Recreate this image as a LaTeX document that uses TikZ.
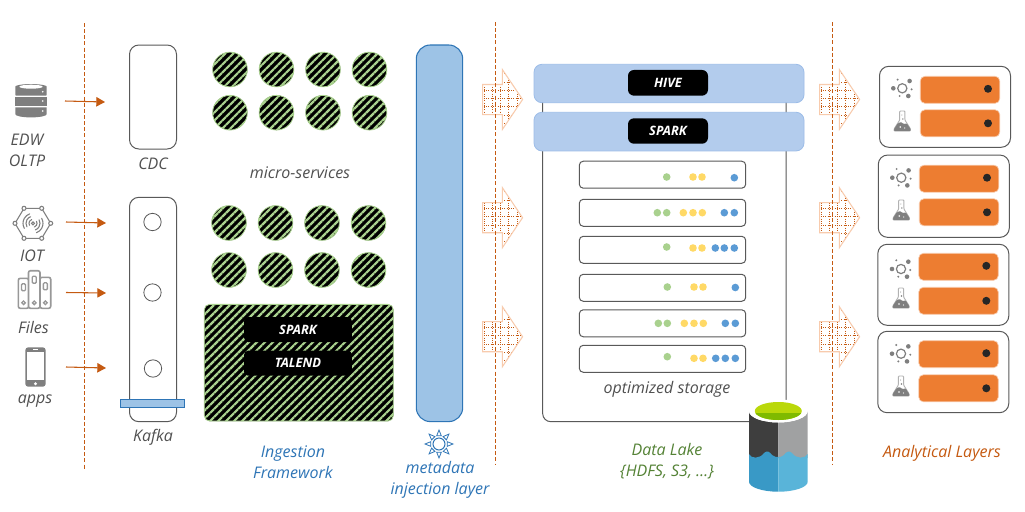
\documentclass[tikz,border=0pt]{standalone}
\usepackage{fontspec}
\setmainfont{Open Sans}
\usepackage{tikz}
\usetikzlibrary{arrows.meta, positioning, shapes.arrows, patterns.meta, calc}

\definecolor{rustc}{HTML}{C55A11}
\definecolor{lineg}{HTML}{595959}
\definecolor{textg}{HTML}{505050}
\definecolor{iconc}{HTML}{7F7F7F}
\definecolor{hatchc}{HTML}{A9D18E}
\definecolor{skyc}{HTML}{9DC3E6}
\definecolor{barc}{HTML}{9DBDE8}
\definecolor{bluec}{HTML}{2E75B6}
\definecolor{peachc}{HTML}{F8CBAD}
\definecolor{orangec}{HTML}{ED7D31}
\definecolor{leafc}{HTML}{548235}
\definecolor{dgreen}{HTML}{A9D18E}
\definecolor{dyellow}{HTML}{FFD966}
\definecolor{dblue}{HTML}{5B9BD5}
\definecolor{barreld}{HTML}{3E3E3E}
\definecolor{barrelg}{HTML}{A0A1A2}
\definecolor{waterd}{HTML}{3999C6}
\definecolor{waterl}{HTML}{59B4D9}
\definecolor{limel}{HTML}{BAD80A}
\definecolor{limed}{HTML}{7FBA00}

\begin{document}
\begin{tikzpicture}[
  x=0.75pt, y=-0.75pt,
  every node/.style = {inner sep=0pt, outer sep=0pt},
  wh/.style 2 args  = {minimum width=#1*0.75pt, minimum height=#2*0.75pt},
  lbl/.style   = {font=\fontsize{12}{15.75}\selectfont\itshape, text=textg, align=center},
  box/.style   = {draw=lineg, line width=0.75pt, rounded corners=6pt, fill=white, rectangle},
  flow/.style  = {draw=rustc, line width=0.8pt, -{Triangle[length=6.5pt,width=7pt]}},
  divider/.style = {draw=rustc, line width=0.65pt, dash pattern=on 3pt off 1.6pt},
  hatched/.style = {draw=hatchc, line width=0.6pt, preaction={fill=black},
                    pattern={Lines[angle=45,distance=4.243pt,line width=1.6pt]}, pattern color=hatchc},
  hatchdot/.style = {hatched, circle, minimum size=26pt},
  chip/.style  = {fill=black, rectangle, rounded corners=3pt, text=white,
                  font=\fontsize{9.7}{11}\selectfont\bfseries\itshape},
  lakebar/.style = {draw=barc, line width=0.6pt, rectangle, rounded corners=6pt,
                    preaction={fill=barc},
                    pattern={Dots[distance=1.5pt,radius=0.5pt]}, pattern color=white},
  griddot/.style = {draw=rustc, line width=0.55pt, dash pattern=on 0.7pt off 1pt},
  gridarrow/.style = {single arrow, draw=peachc, fill=white, line width=0.8pt,
                      text height=21.75pt, text depth=0pt,
                      minimum height=30pt, minimum width=44pt,
                      single arrow head extend=11.1pt, single arrow tip angle=112,
                      path picture={
                        \foreach \k in {-2,-1,0,1,2}
                          \draw[griddot] ($(path picture bounding box.center)+(\k*8.2-2,-40)$) -- ++(0,80);
                        \foreach \k in {-3,-2,-1,0,1,2,3}
                          \draw[griddot] ($(path picture bounding box.center)+(-30,\k*8.3-1)$) -- ++(60,0);
                      }},
  stripbox/.style = {draw=lineg, line width=0.75pt, fill=white, rectangle, rounded corners=3pt, wh={166.4}{27}},
  amber/.style = {fill=orangec, draw=peachc, line width=0.5pt, rectangle, rounded corners=3.5pt, wh={79.5}{27}},
  % icons, drawn around their middle
  dbicon/.pic = {
    \fill[iconc, rounded corners=0.6pt] (-15.7,-5) -- (-15.7,-13.5)
       arc[start angle=180,end angle=360,x radius=15.7,y radius=3.2] -- (15.7,-5) -- cycle;
    \fill[iconc] (-15.7,-3.4) rectangle (15.7,5);
    \fill[iconc] (-15.7,6.6) -- (15.7,6.6) -- (15.7,13.5)
       arc[start angle=0,end angle=180,x radius=15.7,y radius=3.2] -- cycle;
    \fill[white] (0,-14) ellipse [x radius=11.7, y radius=2];
    \foreach \yy in {-9,0.3,10.3} \fill[white] (11.7,\yy) circle (0.9);
  },
  iotwave/.style = {draw=iconc, line width=0.8pt, line cap=round},
  ioticon/.pic = {
    \draw[iotwave] (-9,-15) -- (8.7,-15) -- (17.7,0) -- (8.7,15) -- (-9,15) -- (-18,0) -- cycle;
    \foreach \hx/\hy in {-9/-15,8.7/-15,17.7/0,8.7/15,-9/15,-18/0}
      \draw[iconc, line width=0.8pt, fill=white] (\hx,\hy) circle (2);
    \draw[iotwave] (0,0) circle (1.5);
    \foreach \rr in {4,7,10} {
      \draw[iotwave] (150:\rr) arc[start angle=150,end angle=250,radius=\rr];
      \draw[iotwave] (-30:\rr) arc[start angle=-30,end angle=70,radius=\rr];
    }
  },
  filesicon/.pic = {
    \foreach \xa/\xb/\ya in {-16.2/-5.7/-15, 5.5/16.2/-16, -6/5.5/-22.6} {
      \draw[iconc!80, line width=1.2pt, rounded corners=1.5pt, fill=white] (\xa,15) -- (\xa,\ya) -- (\xb,\ya) -- (\xb,15) -- cycle;
      \draw[iconc!80, line width=1pt, rounded corners=0.8pt] ({(\xa+\xb)/2-2},{\ya+5.5}) rectangle ({(\xa+\xb)/2+2},{\ya+12.5});
      \draw[iconc!80, line width=1pt] ({(\xa+\xb)/2},9.5) circle (1.8);
    }
  },
  phoneicon/.pic = {
    \fill[iconc, rounded corners=2.2pt] (-10.2,-19.7) rectangle (10.2,19.7);
    \fill[white] (-8.5,-15.3) rectangle (8.5,13);
    \fill[white] (0,16.7) circle (1.6);
    \draw[white, line width=0.4pt] (-2.5,-17.5) -- (2.5,-17.5);
  },
  sunicon/.pic = {
    \foreach \ang in {0,45,...,315} {
      \draw[bluec, line width=0.6pt, fill=white]
        (\ang-16:8.5) -- (\ang:14) -- (\ang+16:8.5) -- cycle;
    }
    \draw[bluec, line width=0.75pt, fill=white] (0,0) circle (6);
  },
  sparkicon/.pic = {
    \draw[iconc, line width=0.9pt, fill=white] (0,0) circle (4.6);
    \foreach \ox/\oy/\orad in {-9/0/2.3, 7.3/-7.3/2.3, 6/7.7/2.3, -4.7/-8.7/1.1, -2.7/7.7/1.1, 9.3/1/1.1}
      \fill[iconc] (\ox,\oy) circle (\orad);
  },
  flaskicon/.pic = {
    \draw[iconc!60, line width=0.7pt, fill=white, rounded corners=0.6pt]
      (-2.6,-10) -- (2.6,-10) -- (2.6,-1) -- (8.2,8) -- (8.2,10) -- (-8.2,10) -- (-8.2,8) -- (-2.6,-1) -- cycle;
    \fill[iconc, rounded corners=0.6pt] (-4.6,2.5) -- (-1.5,1) -- (1.5,3) -- (4.6,2.5) -- (8.2,8) -- (8.2,10) -- (-8.2,10) -- (-8.2,8) -- cycle;
    \fill[white] (-2,6) circle (0.9) (2.5,7) circle (0.6);
    \fill[iconc] (0.5,-2) circle (0.8) (-0.5,-6) circle (0.5);
  },
]
\path[use as bounding box, fill=white] (0,0) rectangle (1025,511);

%--- Sources ---
  \pic (edw)   at (31,100.7) {dbicon};
  \pic (iot)   at (33,223.3) {ioticon};
  \pic (files) at (34.5,293.3) {filesicon};
  \pic (apps)  at (35.5,367) {phoneicon};
  \node[lbl] (edwlbl)   at (27,150) {EDW\\OLTP};
  \node[lbl] (iotlbl)   at (32,256) {IOT};
  \node[lbl] (fileslbl) at (33.5,327) {Files};
  \node[lbl] (appslbl)  at (35,401) {apps};

%--- CDC and Kafka ---
  \node[box, wh={47}{104}, rounded corners=7pt] (cdc) at (153,97) {};
  \node[lbl, below=7pt of cdc] (cdclbl) {CDC};
  \node[box, wh={47}{224.4}, rounded corners=7pt] (kafka) at (153,309.5) {};
  \node[lbl, below=5.5pt of kafka] (kafkalbl) {Kafka};
  \node[draw=lineg, line width=0.6pt, fill=white, circle, minimum size=13pt] (kone)   at (152.5,222) {};
  \node[draw=lineg, line width=0.6pt, fill=white, circle, minimum size=13pt] (ktwo)   at (152.5,292.5) {};
  \node[draw=lineg, line width=0.6pt, fill=white, circle, minimum size=13pt] (kthree) at (153,368.5) {};
  \node[draw=bluec, fill=skyc, line width=0.7pt, rectangle, wh={64}{8}] (kbar) at (152,403.5) {};

  \coordinate (edwout)   at (65,101);    \coordinate (edwin)   at (105,102);
  \coordinate (iotout)   at (66,222);    \coordinate (iotin)   at (106,223);
  \coordinate (filesout) at (66,292.5);  \coordinate (filesin) at (106,293);
  \coordinate (appsout)  at (66,367);    \coordinate (appsin)  at (106,368);
  \draw[flow] (edwout)   -- (edwin);
  \draw[flow] (iotout)   -- (iotin);
  \draw[flow] (filesout) -- (filesin);
  \draw[flow] (appsout)  -- (appsin);

%--- Ingestion ---
  \foreach \i/\cx in {1/230,2/276.5,3/323,4/369.5} {
    \node[hatchdot] (msa\i) at (\cx,69.5) {};
    \node[hatchdot] (msb\i) at (\cx,112.7) {};
    \node[hatchdot] (ifa\i) at (\cx-1,223) {};
    \node[hatchdot] (ifb\i) at (\cx-1,270) {};
  }
  \node[lbl] (mslbl) at (300,173) {micro-services};
  \node[hatched, rectangle, rounded corners=4pt, wh={189}{116.7}] (ingest) at (298.8,362.7) {};
  \node[chip, wh={107.7}{25}] (isparkchip) at (298,329.5) {SPARK};
  \node[chip, wh={107.7}{25}, below=6.5pt of isparkchip] (talend) {TALEND};
  \node[lbl, text=bluec] (inglbl) at (293,462) {Ingestion\\Framework};

%--- Metadata ---
  \node[draw=bluec, fill=skyc, line width=0.8pt, rectangle, rounded corners=10.5pt, wh={46.4}{376.6}] (meta) at (439.5,233.3) {};
  \pic (sun) at (439,444) {sunicon};
  \node[lbl, text=bluec] (metalbl) at (440,479.5) {metadata\\injection layer};

%--- Data lake ---
  \node[box, wh={243.4}{341.7}] (lake) at (664.4,250.8) {};
  \node[lakebar, wh={270}{38.4}] (hivebar)  at (669,83.5) {};
  \node[lakebar, wh={270}{38.7}] (sparkbar) at (669,131.6) {};
  \node[chip, rounded corners=4.5pt, wh={80}{25.7}] (hive)  at (668,82.8) {HIVE};
  \node[chip, rounded corners=4.5pt, wh={80}{25.4}] (spark) at (668,131) {SPARK};
  \foreach \i/\cy in {1/174.7,2/212.8,3/249.8,4/287.8,5/323.3,6/358.8}
    \node[stripbox] (row\i) at (662.5,\cy) {};
  \foreach \cc/\yy/\xlist in {
      dgreen/177/{666.7},              dyellow/177/{693,702},         dblue/177.7/{734.3},
      dgreen/212.7/{657.3,666.7},      dyellow/212.7/{683.3,693,702.3}, dblue/212.7/{724.3,734.3},
      dgreen/247/{666.7},              dyellow/248/{693,702},         dblue/248/{715.3,724.3,734.3},
      dgreen/287/{667.3},              dyellow/287/{694,703},         dblue/287.5/{735.3},
      dgreen/323.3/{658.3,667.3},      dyellow/323.3/{684.3,694,703.3}, dblue/323.3/{725.3,735.3},
      dgreen/356.7/{667.3},            dyellow/358.3/{694,703},       dblue/358.3/{715.7,725.3,735.3}}
    \foreach \xx in \xlist
      \fill[\cc] (\xx,\yy) circle (3.8);
  \node[lbl] (storelbl) at (667,389.5) {optimized storage};
  \node[lbl, text=leafc] (lakelbl) at (667,461.5) {Data Lake\\\{HDFS, S3, …\}};

%--- Lake barrel, drawn as shapes ---
  \fill[barreld] (749,411) -- (749,458) -- (778.3,458) -- (778.3,422.5)
     arc[start angle=90,end angle=180,x radius=29.3,y radius=11.5] -- cycle;
  \fill[barrelg] (807.7,411) -- (807.7,458) -- (778.3,458) -- (778.3,422.5)
     arc[start angle=90,end angle=0,x radius=29.4,y radius=11.5] -- cycle;
  \fill[white] (778.3,411) ellipse [x radius=29.4, y radius=11.5];
  \fill[limel] (778.3,411) ellipse [x radius=23.5, y radius=9];
  \begin{scope}
    \clip (755,413) rectangle (802,421);
    \fill[limed] (778.3,411) ellipse [x radius=23.5, y radius=9];
  \end{scope}
  \fill[waterd] (749,454) .. controls (751,459) and (760,459) .. (764,453)
     .. controls (767,450) and (770,452) .. (772,455) .. controls (774,457) and (777,457) .. (778.3,457)
     -- (778.3,491.7) arc[start angle=90,end angle=180,x radius=29.3,y radius=10] -- cycle;
  \fill[waterl] (807.7,454) .. controls (805,459) and (796,459) .. (792,453)
     .. controls (789,450) and (786,452) .. (784,455) .. controls (782,457) and (780,457) .. (778.3,457)
     -- (778.3,491.7) arc[start angle=90,end angle=0,x radius=29.4,y radius=10] -- cycle;

%--- Analytical layers ---
  \foreach \i/\bx/\by/\bh/\ax/\ay/\az/\dx/\ix/\ga/\fa in {
      1/945/106.8/81/960/89.8/123.3/988/902.3/88.3/121,
      2/943.8/196.2/82.3/959/178.7/212.3/987/901.3/177.7/210,
      3/943.3/284.8/81/958.5/266.8/300.8/986.3/901/269/298,
      4/943.3/372/81.4/958.5/354.2/388.3/986.3/901/353.7/386} {
    \node[box, rounded corners=7pt, wh={131}{\bh}] (anbox\i) at (\bx,\by) {};
    \node[amber] (anup\i) at (\ax,\ay) {};
    \node[amber] (anlo\i) at (\ax,\az) {};
    \node[fill=black!85, circle, minimum size=6pt] (anupdot\i) at (\dx,\ay-1) {};
    \node[fill=black!85, circle, minimum size=6pt] (anlodot\i) at (\dx,\az) {};
    \pic (ansp\i) at (\ix,\ga) {sparkicon};
    \pic (anfl\i) at (\ix,\fa) {flaskicon};
  }
  \node[lbl, text=rustc] (anlbl) at (942,453.5) {Analytical Layers};

%--- Big arrows and dividers ---
  \foreach \i/\cy in {1/99.5,2/217.7,3/336.7} {
    \node[gridarrow] (lakein\i) at (497.5,\cy) {};
    \node[gridarrow] (anin\i)   at (834.5,\cy) {};
  }
  \coordinate (diva) at (84,23);   \coordinate (divaend) at (84,470);
  \coordinate (divb) at (495,22);  \coordinate (divbend) at (495,465);
  \coordinate (divc) at (832,22);  \coordinate (divcend) at (832,465);
  \draw[divider] (diva) -- (divaend);
  \draw[divider] (divb) -- (divbend);
  \draw[divider] (divc) -- (divcend);
\end{tikzpicture}
\end{document}
